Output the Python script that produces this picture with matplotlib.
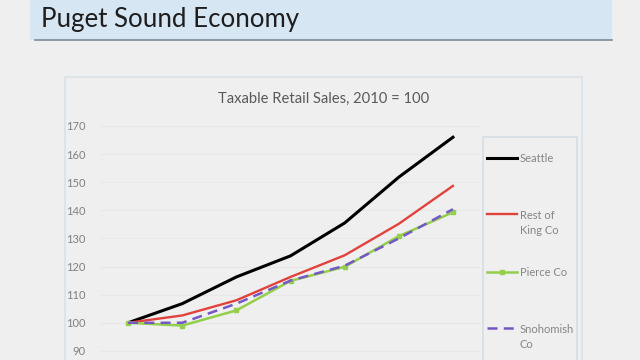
import matplotlib.pyplot as plt
from matplotlib.lines import Line2D
from matplotlib.patches import Rectangle

plt.rcParams['font.family'] = ['Lato', 'DejaVu Sans']

# taxable retail sales index, 2010 = 100 (years 2010..2016)
years = [2010, 2011, 2012, 2013, 2014, 2015, 2016]
seattle = [100, 106.8, 116.3, 123.8, 135.5, 151.8, 166]
rest_king = [100, 102.6, 108, 116.3, 124, 135.2, 148.7]
pierce = [100, 99, 104.4, 114.9, 119.9, 130.8, 139.3]
snohomish = [100, 100, 106.8, 115, 120.3, 130, 140.4]
yticks = [90, 100, 110, 120, 130, 140, 150, 160, 170]

series = [
    ('Seattle', seattle, dict(color='black', lw=2.2)),
    ('Rest of\nKing Co', rest_king, dict(color='#e2423c', lw=1.7)),
    ('Pierce Co', pierce, dict(color='#93cf4a', lw=1.8, marker='s', ms=3)),
    ('Snohomish\nCo', snohomish, dict(color='#7458c4', lw=1.8, dashes=(4, 2.5))),
]

bg = '#efefef'
fig = plt.figure(figsize=(6.4, 3.6), dpi=100, facecolor=bg)

# slide header band
fig.add_artist(Rectangle((30 / 640, 1 - 40 / 360), (612 - 30) / 640, 40 / 360,
                         transform=fig.transFigure, facecolor='#d7e6f3', edgecolor='none'))
fig.add_artist(Line2D([35 / 640, 612 / 640], [1 - 40 / 360, 1 - 40 / 360],
                      transform=fig.transFigure, color='#7d8b99', lw=1.2))
fig.text(41 / 640, 1 - 19 / 360, 'Puget Sound Economy', fontsize=18.6, color='#1e1e1e',
         va='center', ha='left')

# chart frame
fig.add_artist(Rectangle((65 / 640, -0.1), (582 - 65) / 640, 1.1 - 77 / 360,
                         transform=fig.transFigure, facecolor='none',
                         edgecolor='#d9e2ea', lw=1.2))
fig.text(324 / 640, 1 - 99 / 360, 'Taxable Retail Sales, 2010 = 100', fontsize=10.6,
         color='#595959', ha='center', va='center')

ax = fig.add_axes([101 / 640, 1 - 379 / 360, 379 / 640, 253 / 360])
ax.set_facecolor('none')
x = list(range(len(years)))
for name, vals, kw in series:
    ax.plot(x, vals, **kw)
ax.set_xlim(-0.5, len(years) - 0.5)
ax.set_ylim(80, 170)
ax.set_yticks(yticks)
ax.set_xticks([])
ax.grid(axis='y', color='#e8e8e8', lw=0.8)
ax.set_axisbelow(True)
ax.tick_params(axis='y', length=0, pad=11, labelsize=8, labelcolor='#808080')
for s in ax.spines.values():
    s.set_visible(False)

# legend box
fig.add_artist(Rectangle((483 / 640, -0.1), (577 - 483) / 640, 1.1 - 137 / 360,
                         transform=fig.transFigure, facecolor='none',
                         edgecolor='#d3dde7', lw=1.1))
leg_y = [158, 223, 272, 337]
for (name, vals, kw), yy in zip(series, leg_y):
    yf = 1 - yy / 360
    if '\n' in name:
        yf = 1 - (yy - 9) / 360
    fig.add_artist(Line2D([487 / 640, 502 / 640, 517 / 640], [yf, yf, yf],
                          transform=fig.transFigure, markevery=[1], **kw))
    fig.text(520 / 640, 1 - yy / 360, name, fontsize=8, color='#858585',
             ha='left', va='center', linespacing=1.55)

fig.savefig('out.png', dpi=100, facecolor=bg)
